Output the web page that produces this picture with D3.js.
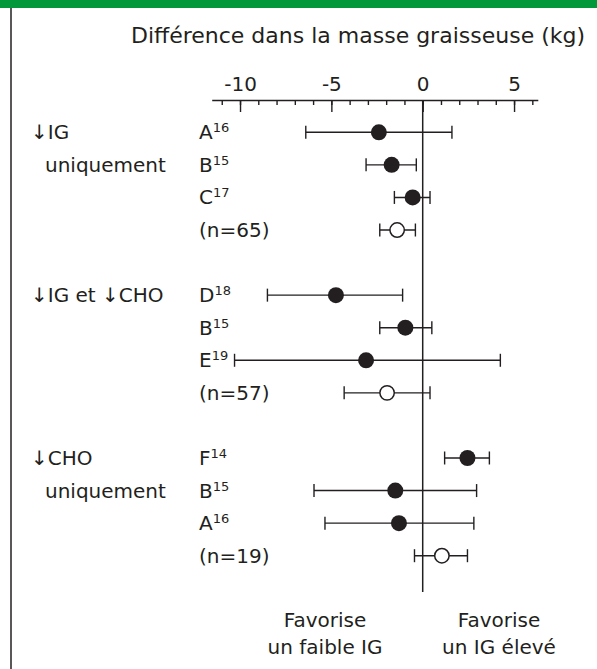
<!DOCTYPE html>
<html>
<head>
<meta charset="utf-8">
<script src="https://cdn.jsdelivr.net/npm/d3@7"></script>
<style>
  html, body { margin: 0; padding: 0; background: #fff; }
  svg { display: block; }
  text { font-family: "DejaVu Sans", sans-serif; fill: #231f20; }
</style>
</head>
<body>
<script>
// ---------- data ----------
const studies   = ["A", "B", "C", "(n=65)", "D", "B", "E", "(n=57)", "F", "B", "A", "(n=19)"];
const refs      = ["16", "15", "17", "", "18", "15", "19", "", "14", "15", "16", ""];
const groupOf   = [0, 0, 0, 0, 1, 1, 1, 1, 2, 2, 2, 2];
const pooled    = [false, false, false, true, false, false, false, true, false, false, false, true];
const estimates = [-2.4, -1.7, -0.55, -1.4, -4.75, -0.95, -3.1, -1.95, 2.45, -1.5, -1.3, 1.05];
const lowers    = [-6.4, -3.1, -1.55, -2.35, -8.5, -2.35, -10.3, -4.3, 1.2, -5.95, -5.35, -0.45];
const uppers    = [1.6, -0.35, 0.4, -0.4, -1.1, 0.5, 4.25, 0.4, 3.65, 2.95, 2.8, 2.45];
const groupLabels = [["↓IG", "uniquement"], ["↓IG et ↓CHO"], ["↓CHO", "uniquement"]];
const majorTicks = [-10, -5, 0, 5];
const minorTicks = d3.range(-11, 7);
const title = "Différence dans la masse graisseuse (kg)";
const favourLeft = ["Favorise", "un faible IG"];
const favourRight = ["Favorise", "un IG élevé"];

// ---------- layout ----------
const W = 597, H = 669;
const svg = d3.select("body").append("svg").attr("width", W).attr("height", H);

svg.append("rect").attr("x", 0).attr("y", 0).attr("width", W).attr("height", 8).attr("fill", "#00983a");
svg.append("line").attr("x1", 11).attr("x2", 11).attr("y1", 8).attr("y2", H)
  .attr("stroke", "#231f20").attr("stroke-width", 1.5);

const x = d3.scaleLinear().domain([-11.55, 6.3]).range([211.7, 537.8]);
// row slot index: one empty slot between groups
const slot = studies.map((d, i) => i + groupOf[i]);
const y = d3.scaleLinear().domain([0, 13]).range([132.3, 555.7]);
const axisY = 100;
const ink = "#231f20";

svg.append("text").attr("x", 358).attr("y", 43).attr("text-anchor", "middle")
  .style("font-size", "22px").text(title);

// axis (ticks hang below the line, labels above)
const gMinor = svg.append("g").attr("transform", `translate(0,${axisY})`)
  .call(d3.axisTop(x).tickValues(minorTicks).tickSizeInner(-5).tickSizeOuter(0).tickFormat(""));
const gMajor = svg.append("g").attr("transform", `translate(0,${axisY})`)
  .call(d3.axisTop(x).tickValues(majorTicks).tickSizeInner(-12).tickSizeOuter(0).tickPadding(9)
    .tickFormat(d => d3.format("d")(d).replace("−", "-")));
[gMinor, gMajor].forEach(g => {
  g.selectAll("path, line").attr("stroke", ink).attr("stroke-width", 1.4);
  g.selectAll("text").style("font-size", "20px").style("font-family", '"DejaVu Sans", sans-serif').attr("fill", ink);
});
gMinor.select(".domain").remove();

// zero reference line
svg.append("line").attr("x1", x(0)).attr("x2", x(0)).attr("y1", axisY).attr("y2", 592)
  .attr("stroke", ink).attr("stroke-width", 1.5);

// group labels
groupLabels.forEach((lines, gi) => {
  const first = groupOf.indexOf(gi);
  lines.forEach((t, li) => {
    svg.append("text").attr("x", li === 0 ? 31 : 45).attr("y", y(slot[first + li]) + 7)
      .style("font-size", "20px").text(t);
  });
});

// row labels
const rows = svg.append("g").selectAll("g").data(studies).join("g");
const lbl = rows.append("text").attr("x", 199).attr("y", (d, i) => y(slot[i]) + 7).style("font-size", "20px");
lbl.append("tspan").text(d => d);
lbl.append("tspan").attr("dy", -7).style("font-size", "13px").text((d, i) => refs[i]);

// whiskers
rows.append("line").attr("x1", (d, i) => x(lowers[i])).attr("x2", (d, i) => x(uppers[i]))
  .attr("y1", (d, i) => y(slot[i])).attr("y2", (d, i) => y(slot[i]))
  .attr("stroke", ink).attr("stroke-width", 1.4);
rows.append("line").attr("x1", (d, i) => x(lowers[i])).attr("x2", (d, i) => x(lowers[i]))
  .attr("y1", (d, i) => y(slot[i]) - 6.5).attr("y2", (d, i) => y(slot[i]) + 6.5)
  .attr("stroke", ink).attr("stroke-width", 1.4);
rows.append("line").attr("x1", (d, i) => x(uppers[i])).attr("x2", (d, i) => x(uppers[i]))
  .attr("y1", (d, i) => y(slot[i]) - 6.5).attr("y2", (d, i) => y(slot[i]) + 6.5)
  .attr("stroke", ink).attr("stroke-width", 1.4);
rows.append("circle").attr("cx", (d, i) => x(estimates[i])).attr("cy", (d, i) => y(slot[i]))
  .attr("r", (d, i) => pooled[i] ? 7.2 : 8)
  .attr("fill", (d, i) => pooled[i] ? "#fff" : ink)
  .attr("stroke", ink).attr("stroke-width", (d, i) => pooled[i] ? 1.5 : 0);

// favour labels
favourLeft.forEach((t, i) => svg.append("text").attr("x", 325).attr("y", 627 + i * 27)
  .attr("text-anchor", "middle").style("font-size", "20px").text(t));
favourRight.forEach((t, i) => svg.append("text").attr("x", 499).attr("y", 627 + i * 27)
  .attr("text-anchor", "middle").style("font-size", "20px").text(t));
</script>
</body>
</html>
